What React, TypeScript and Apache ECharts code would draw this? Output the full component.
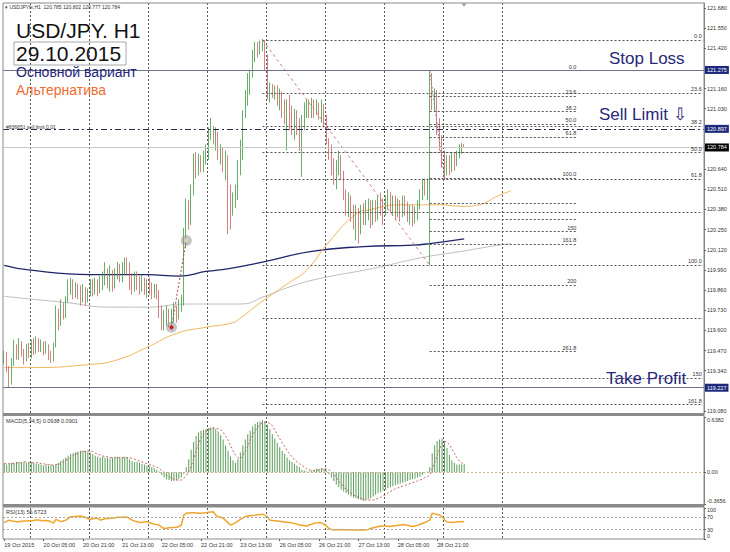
import React, { useEffect, useRef } from "react";
import * as echarts from "echarts";

const N_CATS = 285;
const CATEGORIES = Array.from({ length: N_CATS }, (_, i) => String(i));
const TIME_LABELS = ["19 Oct 2015", "20 Oct 05:00", "20 Oct 21:00", "21 Oct 13:00", "22 Oct 05:00", "22 Oct 21:00", "23 Oct 13:00", "26 Oct 05:00", "26 Oct 21:00", "27 Oct 13:00", "28 Oct 05:00", "28 Oct 21:00"];
const LABEL_STEP = 16;
const DAY_STARTS = [11, 35, 59, 83, 107, 131, 155, 179, 203];
const PRICE_TICKS = [119.08, 119.34, 119.47, 119.6, 119.73, 119.86, 119.99, 120.12, 120.25, 120.38, 120.51, 120.64, 121.03, 121.16, 121.42, 121.55, 121.68];
const MACD_TICKS = [-0.3656, 0, 0.6382];
const RSI_TICKS = [0, 30, 70, 100];

// [open, close, low, high]
const OHLC = [
  [119.41,119.44,119.38,119.47],[119.44,119.36,119.33,119.46],[119.36,119.28,119.23,119.37],[119.28,119.40,119.25,119.42],
  [119.40,119.47,119.37,119.54],[119.47,119.43,119.41,119.51],[119.43,119.51,119.41,119.55],[119.51,119.46,119.43,119.53],
  [119.46,119.42,119.38,119.48],[119.42,119.48,119.40,119.51],[119.48,119.44,119.42,119.52],[119.44,119.51,119.42,119.54],
  [119.51,119.47,119.44,119.55],[119.47,119.53,119.45,119.56],[119.53,119.48,119.46,119.55],[119.48,119.51,119.46,119.54],
  [119.51,119.47,119.44,119.53],[119.47,119.50,119.45,119.53],[119.50,119.44,119.41,119.51],[119.44,119.42,119.39,119.47],
  [119.42,119.51,119.40,119.52],[119.51,119.72,119.49,119.76],[119.72,119.65,119.60,119.74],[119.65,119.73,119.63,119.80],
  [119.73,119.70,119.67,119.78],[119.70,119.80,119.68,119.82],[119.80,119.86,119.78,119.93],[119.86,119.89,119.83,119.94],
  [119.89,119.83,119.80,119.93],[119.83,119.87,119.81,119.91],[119.87,119.85,119.80,119.90],[119.85,119.81,119.76,119.89],
  [119.81,119.86,119.78,119.90],[119.86,119.80,119.76,119.88],[119.80,119.84,119.78,119.87],[119.84,119.89,119.82,119.93],
  [119.89,119.86,119.82,119.93],[119.86,119.91,119.83,119.94],[119.91,119.86,119.82,119.93],[119.86,119.90,119.84,119.95],
  [119.90,119.93,119.86,119.98],[119.93,119.98,119.89,120.04],[119.98,119.93,119.87,120.00],[119.93,119.96,119.85,120.02],
  [119.96,119.91,119.85,119.99],[119.91,119.98,119.87,120.00],[119.98,120.00,119.93,120.04],[120.00,119.95,119.91,120.03],
  [119.95,119.99,119.91,120.04],[119.99,120.03,119.96,120.07],[120.03,120.00,119.96,120.07],[120.00,119.93,119.86,120.04],
  [119.93,119.89,119.83,119.97],[119.89,119.95,119.85,119.98],[119.95,119.93,119.86,119.98],[119.93,119.88,119.83,119.95],
  [119.88,119.91,119.85,119.96],[119.91,119.86,119.83,119.94],[119.86,119.90,119.81,119.93],[119.90,119.87,119.83,119.94],
  [119.87,119.83,119.80,119.91],[119.83,119.87,119.81,119.90],[119.87,119.83,119.80,119.90],[119.83,119.73,119.68,119.86],
  [119.73,119.65,119.60,119.76],[119.65,119.68,119.60,119.73],[119.68,119.72,119.63,119.76],[119.72,119.67,119.62,119.74],
  [119.67,119.70,119.60,119.74],[119.70,119.73,119.65,119.78],[119.73,119.69,119.65,119.76],[119.69,119.76,119.67,119.80],
  [119.76,119.80,119.72,119.83],[119.80,120.18,119.76,120.26],[120.18,120.38,120.13,120.45],[120.38,120.31,120.25,120.44],
  [120.31,120.51,120.28,120.54],[120.51,120.70,120.47,120.74],[120.70,120.63,120.58,120.75],[120.63,120.70,120.60,120.74],
  [120.70,120.65,120.62,120.73],[120.65,120.71,120.62,120.76],[120.71,120.73,120.67,120.80],[120.73,120.86,120.70,120.91],
  [120.86,120.91,120.83,120.97],[120.91,120.83,120.80,120.92],[120.83,120.86,120.76,120.91],[120.86,120.73,120.70,120.88],
  [120.73,120.76,120.67,120.80],[120.76,120.67,120.62,120.78],[120.67,120.71,120.57,120.76],[120.71,120.51,120.22,120.73],
  [120.51,120.38,120.25,120.54],[120.38,120.44,120.34,120.49],[120.44,120.47,120.39,120.54],[120.47,120.63,120.44,120.70],
  [120.63,120.76,120.60,120.83],[120.76,120.99,120.70,121.02],[120.99,121.09,120.97,121.15],[121.09,121.18,121.05,121.26],
  [121.18,121.25,121.12,121.28],[121.25,121.38,121.23,121.41],[121.38,121.44,121.33,121.46],[121.44,121.40,121.36,121.46],
  [121.40,121.44,121.38,121.47],[121.44,121.46,121.40,121.48],[121.46,121.31,121.28,121.47],[121.31,121.12,121.09,121.38],
  [121.12,121.16,121.07,121.20],[121.16,121.14,121.10,121.19],[121.14,121.15,121.09,121.18],[121.15,121.09,121.05,121.18],
  [121.09,121.12,121.02,121.16],[121.12,121.03,120.97,121.14],[121.03,120.99,120.93,121.09],[120.99,121.05,120.76,121.09],
  [121.05,121.01,120.89,121.12],[121.01,120.96,120.86,121.05],[120.96,120.99,120.83,121.03],[120.99,120.93,120.86,121.02],
  [120.93,120.89,120.76,120.97],[120.89,120.96,120.59,120.99],[120.96,121.02,120.89,121.07],[121.02,121.05,120.97,121.09],
  [121.05,121.01,120.97,121.09],[121.01,121.06,120.97,121.10],[121.06,121.02,120.97,121.09],[121.02,121.05,120.99,121.09],
  [121.05,121.01,120.96,121.07],[121.01,121.03,120.94,121.09],[121.03,120.96,120.91,121.06],[120.96,120.83,120.80,120.99],
  [120.83,120.76,120.70,120.84],[120.76,120.67,120.60,120.80],[120.67,120.60,120.54,120.71],[120.60,120.65,120.51,120.70],
  [120.65,120.70,120.60,120.76],[120.70,120.60,120.57,120.73],[120.60,120.47,120.44,120.63],[120.47,120.41,120.34,120.51],
  [120.41,120.44,120.33,120.49],[120.44,120.36,120.30,120.47],[120.36,120.31,120.25,120.41],[120.31,120.34,120.18,120.41],
  [120.34,120.28,120.16,120.39],[120.28,120.38,120.22,120.41],[120.38,120.33,120.28,120.42],[120.33,120.38,120.28,120.44],
  [120.38,120.41,120.31,120.45],[120.41,120.34,120.26,120.44],[120.34,120.39,120.28,120.44],[120.39,120.36,120.30,120.44],
  [120.36,120.44,120.31,120.47],[120.44,120.41,120.34,120.49],[120.41,120.38,120.28,120.45],[120.38,120.44,120.34,120.47],
  [120.44,120.47,120.38,120.51],[120.47,120.41,120.36,120.49],[120.41,120.44,120.34,120.47],[120.44,120.38,120.31,120.47],
  [120.38,120.41,120.33,120.45],[120.41,120.36,120.30,120.44],[120.36,120.44,120.33,120.47],[120.44,120.39,120.34,120.47],
  [120.39,120.34,120.30,120.43],[120.34,120.38,120.28,120.41],[120.38,120.33,120.27,120.41],[120.33,120.36,120.29,120.40],
  [120.36,120.41,120.31,120.44],[120.41,120.47,120.38,120.51],[120.47,120.54,120.44,120.58],[120.54,120.51,120.47,120.58],
  [120.51,120.56,120.44,120.58],[120.56,121.18,120.02,121.27],[121.18,121.09,121.02,121.26],[121.09,121.12,121.01,121.16],
  [121.12,120.96,120.86,121.15],[120.96,120.83,120.76,120.97],[120.83,120.70,120.65,120.86],[120.70,120.63,120.57,120.76],
  [120.63,120.69,120.60,120.73],[120.69,120.65,120.60,120.73],[120.65,120.70,120.62,120.75],[120.70,120.68,120.63,120.75],
  [120.68,120.73,120.66,120.76],[120.73,120.76,120.71,120.80],[120.76,120.785,120.74,120.81],[120.785,120.784,120.777,120.802],
];

// moving averages: [bar index, price]
const MA_ORANGE = [[0,119.36],[10,119.36],[35,119.38],[46,119.41],[58,119.49],[70,119.58],[82,119.62],[93,119.65],[96,119.68],[106,119.80],[116,119.91],[123,119.99],[132,120.17],[143,120.35],[149,120.38],[161,120.41],[177,120.41],[187,120.40],[193,120.41],[201,120.47],[206,120.50]];
const MA_NAVY = [[0,120.02],[10,119.99],[35,119.96],[58,119.96],[71,119.95],[82,119.98],[92,120.00],[105,120.04],[125,120.11],[146,120.14],[166,120.15],[173,120.16],[187,120.19]];
const MA_GRAY = [[0,119.82],[12,119.80],[25,119.78],[43,119.75],[59,119.75],[73,119.77],[85,119.77],[96,119.77],[106,119.82],[116,119.88],[127,119.93],[150,120.00],[170,120.07],[186,120.11],[201,120.15],[206,120.16]];

const MACD_HIST = [
  0.10,0.09,0.10,0.11,0.11,0.12,0.12,0.11,0.12,0.11, 0.11,0.12,0.11,0.10,0.10,0.09,0.08,0.09,0.08,0.09,
  0.08,0.09,0.11,0.13,0.15,0.17,0.19,0.21,0.22,0.23, 0.24,0.25,0.25,0.25,0.24,0.23,0.21,0.19,0.18,0.17,
  0.18,0.17,0.17,0.16,0.17,0.17,0.18,0.17,0.17,0.18, 0.17,0.15,0.13,0.12,0.12,0.11,0.10,0.09,0.08,0.07,
  0.06,0.05,0.03,0.01,-0.03,-0.06,-0.08,-0.09,-0.10,-0.10, -0.09,-0.08,-0.06,-0.02,0.06,0.15,0.26,0.35,0.42,0.46,
  0.48,0.49,0.50,0.51,0.52,0.52,0.50,0.47,0.43,0.38, 0.31,0.25,0.18,0.14,0.11,0.15,0.23,0.31,0.38,0.44,
  0.48,0.53,0.56,0.58,0.59,0.60,0.59,0.55,0.50,0.44, 0.39,0.34,0.29,0.25,0.21,0.17,0.14,0.12,0.10,0.08,
  0.06,0.03,0.02,0.01,0.01,0.02,0.03,0.04,0.04,0.05, 0.04,0.02,-0.02,-0.06,-0.10,-0.14,-0.17,-0.20,-0.22,-0.24,
  -0.26,-0.28,-0.29,-0.30,-0.31,-0.32,-0.33,-0.32,-0.31,-0.30, -0.28,-0.26,-0.24,-0.23,-0.21,-0.20,-0.18,-0.17,-0.16,-0.15,
  -0.14,-0.13,-0.12,-0.11,-0.10,-0.09,-0.08,-0.07,-0.06,-0.05, -0.03,-0.01,0.01,0.06,0.22,0.31,0.36,0.38,0.39,0.36,
  0.28,0.20,0.14,0.11,0.09,0.09,0.09,0.0938,
];
const MACD_SIGNAL = [
  0.10,0.10,0.10,0.10,0.10,0.11,0.11,0.11,0.12,0.12, 0.11,0.11,0.11,0.11,0.11,0.10,0.10,0.09,0.09,0.09,
  0.08,0.09,0.09,0.10,0.12,0.14,0.15,0.17,0.19,0.21, 0.22,0.23,0.24,0.24,0.25,0.24,0.24,0.22,0.21,0.20,
  0.19,0.18,0.18,0.17,0.17,0.17,0.17,0.17,0.17,0.17, 0.17,0.17,0.16,0.15,0.14,0.13,0.12,0.11,0.10,0.09,
  0.08,0.07,0.06,0.04,0.02,0.00,-0.03,-0.05,-0.07,-0.08, -0.09,-0.09,-0.09,-0.07,-0.04,0.01,0.07,0.15,0.25,0.33,
  0.39,0.44,0.47,0.49,0.50,0.51,0.51,0.50,0.49,0.46, 0.42,0.37,0.31,0.25,0.20,0.17,0.16,0.19,0.24,0.30,
  0.37,0.43,0.48,0.52,0.55,0.57,0.58,0.58,0.56,0.54, 0.49,0.44,0.39,0.34,0.30,0.25,0.21,0.18,0.15,0.12,
  0.10,0.08,0.06,0.04,0.03,0.02,0.02,0.02,0.03,0.03, 0.04,0.04,0.03,0.01,-0.02,-0.06,-0.10,-0.13,-0.17,-0.20,
  -0.22,-0.24,-0.26,-0.28,-0.29,-0.30,-0.31,-0.32,-0.32,-0.32, -0.32,-0.31,-0.30,-0.29,-0.27,-0.26,-0.24,-0.22,-0.21,-0.19,
  -0.18,-0.17,-0.16,-0.15,-0.14,-0.13,-0.12,-0.11,-0.10,-0.09, -0.08,-0.06,-0.05,-0.03,0.04,0.11,0.19,0.27,0.33,0.36,
  0.35,0.32,0.27,0.22,0.17,0.13,0.11,0.0901,
];
const RSI = [
  53,57,61,58,57,56,56,57,58,58, 59,59,60,61,61,60,59,60,59,55,
  51,63,60,56,58,61,66,72,72,73, 73,74,72,70,66,63,65,67,67,61,
  63,65,66,67,68,68,70,70,70,71, 70,66,61,58,56,53,54,55,56,53,
  50,48,47,45,38,34,35,36,37,37, 38,40,45,77,83,84,85,85,84,83,
  83,84,85,86,87,88,77,72,70,67, 60,52,45,48,53,58,63,68,72,74,
  75,76,77,78,79,80,76,72,61,60, 59,58,57,56,55,54,53,52,50,48,
  45,44,43,42,45,48,51,52,53,52, 48,42,34,31,29,30,31,30,30,29,
  30,30,29,29,29,30,29,29,31,34, 36,38,40,41,42,42,41,40,42,43,
  44,45,46,46,44,42,40,42,44,47, 50,53,57,61,83,81,80,77,72,62,
  55,54,53,54,55,56,56,56.67,
];

// Fibonacci retracements
const FIB1 = { start: 105, end: 284, p0: 121.474, p100: 120.02 };
const FIB1_LEVELS = [0, 23.6, 38.2, 50, 61.8, 76.4, 100, 123.6, 150, 161.8];
const FIB1_LABELS = ["0.0", "23.6", "38.2", "50.0", "61.8", "", "100.0", "", "150", "161.8"];
const FIB2 = { start: 173, end: 233, p0: 121.275, p100: 120.583 };
const FIB2_LEVELS = [0, 23.6, 38.2, 50, 61.8, 76.4, 100, 123.6, 138.2, 150, 161.8, 200, 261.8];
const FIB2_LABELS = ["0.0", "23.6", "38.2", "50.0", "61.8", "", "100.0", "", "", "150", "161.8", "200", "261.8"];

const STOP_LOSS = 121.275;
const SELL_LIMIT = 120.897;
const LAST_PRICE = 120.784;
const TAKE_PROFIT = 119.227;

const FONT = "Liberation Sans, Arial, sans-serif";
const SMALL = 5.5;

function tagLabel(text: string, bg: string) {
  return {
    show: true, position: "end", formatter: text, color: "#fff", backgroundColor: bg,
    fontSize: SMALL, fontFamily: FONT, padding: [1, 2, 1, 2], distance: 1,
  };
}

function fibItems(fib: any, levels: number[], labels: string[]) {
  return levels.map((lv, k) => {
    const p = fib.p0 - (fib.p0 - fib.p100) * lv / 100;
    return [
      {
        coord: [String(fib.start), p],
        lineStyle: { color: "#555", type: [2, 2], width: 1 },
        label: { show: labels[k] !== "", position: "insideEndTop", formatter: labels[k], fontSize: SMALL, color: "#333", fontFamily: FONT, distance: 1 },
      },
      { coord: [String(fib.end), p] },
    ];
  });
}

const edgeRich = {
  t: { fontSize: SMALL, color: "#333", fontFamily: FONT, padding: [5, 0, 0, 0] },
  b: { fontSize: SMALL, color: "#333", fontFamily: FONT, padding: [0, 0, 6, 0] },
};

export default function App() {
  const ref = useRef<HTMLDivElement>(null);
  useEffect(() => {
    const chart = echarts.init(ref.current!, null, { renderer: "svg" });
    const daySplit = (i: number) => DAY_STARTS.includes(i);
    const labelIdx = (i: number) => i % LABEL_STEP === 0 && i / LABEL_STEP < TIME_LABELS.length;
    const splitLine = { show: true, interval: daySplit, lineStyle: { color: "#555", type: [2, 2], width: 1 } };
    const hiddenX = (gi: number) => ({
      type: "category", gridIndex: gi, data: CATEGORIES, boundaryGap: true,
      axisLine: { show: false }, axisTick: { show: false }, axisLabel: { show: false }, splitLine,
    });
    const yBase = {
      position: "right", axisLine: { show: true, lineStyle: { color: "#808080" } },
      splitLine: { show: false },
    };

    const option: any = {
      animation: false,
      backgroundColor: "#fff",
      textStyle: { fontFamily: FONT },
      grid: [
        { left: 3, right: 26, top: 3, height: 410 },
        { left: 3, right: 26, top: 417, height: 87 },
        { left: 3, right: 26, top: 508, height: 31 },
      ],
      xAxis: [
        hiddenX(0),
        hiddenX(1),
        {
          type: "category", gridIndex: 2, data: CATEGORIES, boundaryGap: true,
          axisLine: { show: false },
          axisTick: { show: true, interval: labelIdx, alignWithLabel: true, length: 2, lineStyle: { color: "#555" } },
          axisLabel: {
            interval: labelIdx, align: "left", fontSize: SMALL, color: "#333", margin: 3, fontFamily: FONT,
            formatter: (_v: string, i: number) => (labelIdx(i) ? TIME_LABELS[i / LABEL_STEP] : ""),
          },
          splitLine,
        },
      ],
      yAxis: [
        {
          ...yBase, type: "value", gridIndex: 0, min: 119.067, max: 121.712, scale: true,
          axisTick: { show: true, customValues: PRICE_TICKS, length: 2, lineStyle: { color: "#555" } },
          axisLabel: { customValues: PRICE_TICKS, formatter: (v: number) => v.toFixed(3), fontSize: SMALL, color: "#333", margin: 3, fontFamily: FONT },
        },
        {
          ...yBase, type: "value", gridIndex: 1, min: -0.3656, max: 0.6382,
          axisTick: { show: true, customValues: MACD_TICKS, length: 2, lineStyle: { color: "#555" } },
          axisLabel: {
            customValues: MACD_TICKS, fontSize: SMALL, color: "#333", margin: 3, fontFamily: FONT, rich: edgeRich,
            formatter: (v: number) => (Math.abs(v) < 1e-9 ? "0.00" : v > 0 ? `{t|${v.toFixed(4)}}` : `{b|${v.toFixed(4)}}`),
          },
        },
        {
          ...yBase, type: "value", gridIndex: 2, min: 0, max: 100,
          axisTick: { show: true, customValues: RSI_TICKS, length: 2, lineStyle: { color: "#555" } },
          axisLabel: {
            customValues: RSI_TICKS, fontSize: SMALL, color: "#333", margin: 3, fontFamily: FONT,
            rich: {
              t: { fontSize: SMALL, color: "#333", fontFamily: FONT, padding: [4, 0, 0, 0] },
              b: { fontSize: SMALL, color: "#333", fontFamily: FONT, padding: [0, 0, 6, 0] },
            },
            formatter: (v: number) => (v === 100 ? "{t|100}" : v === 0 ? "{b|0}" : String(v)),
          },
        },
      ],
      series: [
        {
          type: "line", xAxisIndex: 0, yAxisIndex: 0, data: MA_GRAY, smooth: true, showSymbol: false,
          lineStyle: { color: "#bdbdbd", width: 1 }, silent: true, z: 1,
        },
        {
          type: "line", xAxisIndex: 0, yAxisIndex: 0, data: MA_NAVY, smooth: true, showSymbol: false,
          lineStyle: { color: "#1f2468", width: 1.3 }, silent: true, z: 1,
        },
        {
          type: "line", xAxisIndex: 0, yAxisIndex: 0, data: MA_ORANGE, smooth: true, showSymbol: false,
          lineStyle: { color: "#f0b45c", width: 1 }, silent: true, z: 1,
        },
        {
          type: "candlestick", xAxisIndex: 0, yAxisIndex: 0, data: OHLC, barWidth: 1, z: 3,
          itemStyle: { color: "#3f9a3f", color0: "#cc5f62", borderColor: "#3f9a3f", borderColor0: "#cc5f62", borderWidth: 0.8 },
          markLine: {
            silent: true, symbol: ["none", "none"], animation: false,
            data: [
              ...fibItems(FIB1, FIB1_LEVELS, FIB1_LABELS),
              ...fibItems(FIB2, FIB2_LEVELS, FIB2_LABELS),
              [
                { coord: [String(FIB1.start), FIB1.p0], lineStyle: { color: "#d08080", type: [3, 3], width: 1 }, label: { show: false } },
                { coord: [String(173), FIB1.p100] },
              ],
              [
                { coord: [String(FIB2.start), FIB2.p0], lineStyle: { color: "#888", type: [2, 2], width: 1 }, label: { show: false } },
                { coord: [String(179), FIB2.p100] },
              ],
              [
                { coord: ["68", 119.62], lineStyle: { color: "#b04040", type: [2, 2], width: 1 }, label: { show: false } },
                { coord: ["74", 120.18] },
              ],
              { yAxis: LAST_PRICE, lineStyle: { color: "#c8c8c8", type: "solid", width: 1 }, label: tagLabel("120.784", "#000") },
              { yAxis: STOP_LOSS, lineStyle: { color: "#70708a", type: "solid", width: 1 }, label: tagLabel("121.275", "#1d2a7c") },
              { yAxis: TAKE_PROFIT, lineStyle: { color: "#70708a", type: "solid", width: 1 }, label: tagLabel("119.227", "#1d2a7c") },
              { yAxis: SELL_LIMIT, lineStyle: { color: "#2a2a48", type: [6, 3, 2, 3], width: 1.2 }, label: tagLabel("120.897", "#1d2a7c") },
            ],
          },
          markPoint: {
            silent: true, animation: false, label: { show: false },
            data: [
              { coord: ["68", 119.62], symbol: "circle", symbolSize: 11, itemStyle: { color: "rgba(150,150,150,0.55)" } },
              { coord: ["68", 119.62], symbol: "circle", symbolSize: 4, itemStyle: { color: "#d02020" } },
              { coord: ["74", 120.18], symbol: "circle", symbolSize: 11, itemStyle: { color: "rgba(150,150,150,0.55)" } },
              { coord: ["74", 120.18], symbol: "circle", symbolSize: 4, itemStyle: { color: "rgba(220,220,170,0.9)" } },
            ],
          },
        },
        {
          type: "bar", xAxisIndex: 1, yAxisIndex: 1, data: MACD_HIST, barWidth: 1, silent: true,
          itemStyle: { color: "#5c9e5c" },
          markLine: {
            silent: true, symbol: ["none", "none"], animation: false,
            data: [{ yAxis: 0, lineStyle: { color: "#cdb48a", type: [2, 2], width: 1 }, label: { show: false } }],
          },
        },
        {
          type: "line", xAxisIndex: 1, yAxisIndex: 1, data: MACD_SIGNAL, showSymbol: false, silent: true,
          lineStyle: { color: "#c46464", type: [2, 2], width: 1 },
        },
        {
          type: "line", xAxisIndex: 2, yAxisIndex: 2, data: RSI, showSymbol: false, silent: true,
          lineStyle: { color: "#eea52a", width: 1.5 },
          markLine: {
            silent: true, symbol: ["none", "none"], animation: false,
            data: [
              { yAxis: 70, lineStyle: { color: "#aaa", type: [2, 2], width: 1 }, label: { show: false } },
              { yAxis: 30, lineStyle: { color: "#aaa", type: [2, 2], width: 1 }, label: { show: false } },
            ],
          },
        },
      ],
      graphic: [
        { type: "rect", z: 50, shape: { x: 3, y: 3, width: 701, height: 536 }, style: { fill: "none", stroke: "#8a8a8a", lineWidth: 1 }, silent: true },
        { type: "rect", z: 50, shape: { x: 3, y: 413, width: 701, height: 3 }, style: { fill: "#8a8a8a" }, silent: true },
        { type: "rect", z: 50, shape: { x: 3, y: 504, width: 701, height: 3.5 }, style: { fill: "#8a8a8a" }, silent: true },
        { type: "polygon", z: 50, shape: { points: [[461, 3], [467, 3], [464, 7]] }, style: { fill: "#aaa" }, silent: true },
        { type: "text", z: 60, x: 5, y: 7, style: { text: "▾ USDJPYfx,H1  120.785 120.802 120.777 120.784", fontSize: 5, fill: "#333", fontFamily: FONT, verticalAlign: "middle" } },
        { type: "text", z: 60, x: 6, y: 126.5, style: { text: "#836651 sell limit 0.01", fontSize: 5, fill: "#333", fontFamily: FONT, verticalAlign: "middle" } },
        { type: "text", z: 60, x: 16, y: 30.5, style: { text: "USD/JPY. H1", fontSize: 21, fill: "#111", fontFamily: FONT, verticalAlign: "middle" } },
        { type: "rect", z: 59, shape: { x: 14, y: 42, width: 112, height: 23 }, style: { fill: "none", stroke: "#a8a8a8", lineWidth: 1 }, silent: true },
        { type: "text", z: 60, x: 16, y: 53.5, style: { text: "29.10.2015", fontSize: 21, fill: "#111", fontFamily: FONT, verticalAlign: "middle" } },
        { type: "text", z: 60, x: 16, y: 72, style: { text: "Основной вариант", fontSize: 14, fill: "#24247a", fontFamily: FONT, verticalAlign: "middle" } },
        { type: "text", z: 60, x: 16, y: 90, style: { text: "Альтернатива", fontSize: 14, fill: "#ef6b2f", fontFamily: FONT, verticalAlign: "middle" } },
        { type: "text", z: 60, x: 609, y: 58.5, style: { text: "Stop Loss", fontSize: 17, fill: "#28287a", fontFamily: FONT, verticalAlign: "middle" } },
        { type: "text", z: 60, x: 599, y: 114, style: { text: "Sell Limit ⇩", fontSize: 17, fill: "#28287a", fontFamily: FONT, verticalAlign: "middle" } },
        { type: "text", z: 60, x: 606, y: 378.5, style: { text: "Take Profit", fontSize: 17, fill: "#28287a", fontFamily: FONT, verticalAlign: "middle" } },
        { type: "text", z: 60, x: 6, y: 421, style: { text: "MACD(5,34,5) 0.0938 0.0901", fontSize: 5.5, fill: "#333", fontFamily: FONT, verticalAlign: "middle" } },
        { type: "text", z: 60, x: 6, y: 511.5, style: { text: "RSI(13) 56.6723", fontSize: 5.5, fill: "#333", fontFamily: FONT, verticalAlign: "middle" } },
      ],
    };
    chart.setOption(option);
    return () => chart.dispose();
  }, []);
  return <div ref={ref} style={{ position: "absolute", left: 0, top: 0, width: 730, height: 552, background: "#fff" }} />;
}
